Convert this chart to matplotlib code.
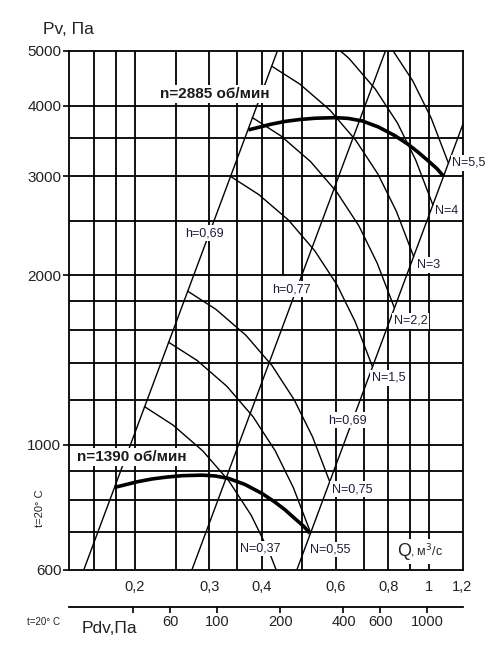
import matplotlib.pyplot as plt
import matplotlib.ticker as mticker

plt.rcParams['font.family'] = ['Liberation Sans', 'DejaVu Sans']

# grid of the chart
q_grid = [0.16, 0.18, 0.2, 0.25, 0.3, 0.35, 0.4, 0.5, 0.6, 0.7, 0.8, 0.9, 1.0]
p_grid = [700, 800, 900, 1000, 1200, 1400, 1600, 1800, 2000, 2500, 3000, 3500, 4000]
q_ticks = [0.2, 0.3, 0.4, 0.6, 0.8, 1.0, 1.2]
q_labels = ['0,2', '0,3', '0,4', '0,6', '0,8', '1', '1,2']
p_ticks = [600, 1000, 2000, 3000, 4000, 5000]
pdv_ticks = [40, 60, 100, 200, 400, 600, 1000]
pdv_labels = ['', '60', '100', '200', '400', '600', '1000']

# fan curves
q_2885 = [0.372, 0.397, 0.419, 0.455, 0.494, 0.537, 0.599, 0.643,
          0.694, 0.758, 0.832, 0.893, 0.944, 0.997, 1.047, 1.082]
p_2885 = [3622, 3666, 3704, 3750, 3780, 3799, 3808, 3796,
          3757, 3666, 3534, 3413, 3303, 3190, 3087, 3001]
q_1390 = [0.179, 0.191, 0.202, 0.219, 0.238, 0.259, 0.289, 0.310,
          0.334, 0.365, 0.401, 0.430, 0.455, 0.480, 0.504, 0.521]
p_1390 = [841, 851, 860, 870, 877, 882, 884, 881,
          872, 851, 820, 792, 767, 740, 717, 697]

# efficiency lines
h1_q = [0.151, 0.436]
h1_p = [600, 5000]
h2_q = [0.273, 0.788]
h2_p = [600, 5000]
h3_q = [0.485, 1.205]
h3_p = [600, 3710]

# power lines
n_curves = {
    '0,37': ([0.2108, 0.2460, 0.2898, 0.3344, 0.3775, 0.4173, 0.4584],
             [1169, 1085, 976, 863, 751, 645, 538]),
    '0,55': ([0.2404, 0.2807, 0.3306, 0.3814, 0.4307, 0.4759, 0.5230],
             [1521, 1413, 1271, 1123, 977, 840, 699]),
    '0,75': ([0.2669, 0.3115, 0.3668, 0.4234, 0.4780, 0.5285, 0.5803],
             [1874, 1740, 1566, 1383, 1203, 1034, 862]),
    '1,5': ([0.3375, 0.3938, 0.4638, 0.5352, 0.6042, 0.6680, 0.7336],
            [2995, 2781, 2504, 2210, 1924, 1653, 1378]),
    '2,2': ([0.3804, 0.4441, 0.5230, 0.6036, 0.6815, 0.7531, 0.8275],
            [3808, 3536, 3182, 2810, 2447, 2102, 1751]),
    '3': ([0.4228, 0.4934, 0.5811, 0.6705, 0.7570, 0.8371, 0.9192],
          [4699, 4366, 3929, 3468, 3020, 2595, 2161]),
    '4': ([0.4697, 0.5484, 0.6455, 0.7449, 0.8411, 0.9298, 1.0212],
          [5801, 5390, 4851, 4282, 3728, 3204, 2669]),
    '5,5': ([0.5115, 0.5970, 0.7032, 0.8110, 0.9158, 1.0125, 1.1121],
            [6879, 6390, 5751, 5078, 4421, 3799, 3165]),
}
n_label_pos = {
    '0,37': (0.356, 656), '0,55': (0.522, 653), '0,75': (0.588, 835),
    '1,5': (0.731, 1315), '2,2': (0.824, 1660), '3': (0.936, 2086),
    '4': (1.036, 2600), '5,5': (1.137, 3165),
}

fig = plt.figure(figsize=(5, 6.52), dpi=100)
ax = fig.add_axes([0.138, 0.1258, 0.788, 0.796])
ax.set_xscale('log')
ax.set_yscale('log')
ax.set_xlim(0.1393, 1.205)
ax.set_ylim(600, 5000)

glw = 1.3
for q in q_grid:
    ax.axvline(q, color='black', lw=glw, zorder=1)
ax.plot([0.45, 0.45], [2000, 5000], color='black', lw=glw, zorder=1)
for p in p_grid:
    ax.axhline(p, color='black', lw=glw, zorder=1)
for s in ax.spines.values():
    s.set_linewidth(glw)

ax.xaxis.set_major_locator(mticker.FixedLocator(q_ticks))
ax.xaxis.set_major_formatter(mticker.FixedFormatter(q_labels))
ax.xaxis.set_minor_locator(mticker.NullLocator())
ax.yaxis.set_major_locator(mticker.FixedLocator(p_ticks))
ax.yaxis.set_major_formatter(mticker.FixedFormatter([str(p) for p in p_ticks]))
ax.yaxis.set_minor_locator(mticker.NullLocator())
ax.tick_params(axis='x', length=0, pad=7, labelsize=10.5, colors='#222222')
ax.tick_params(axis='y', length=4.5, width=1.2, pad=1, labelsize=11, colors='#222222')
ax.tick_params(axis='y', color='black')

for k, (qs, ps) in n_curves.items():
    ax.plot(qs, ps, color='black', lw=1.0, zorder=2)
ax.plot(h1_q, h1_p, color='black', lw=1.0, zorder=2)
ax.plot(h2_q, h2_p, color='black', lw=1.0, zorder=2)
ax.plot(h3_q, h3_p, color='black', lw=1.0, zorder=2)
ax.plot(q_2885, p_2885, color='black', lw=2.6, zorder=3, solid_capstyle='butt')
ax.plot(q_1390, p_1390, color='black', lw=2.6, zorder=3, solid_capstyle='butt')

box = dict(facecolor='white', edgecolor='none', pad=1.2)
lab = dict(fontsize=9, color='#1c1c3a', zorder=5, bbox=box)
ax.text(0.2917, 2377, 'h=0,69', ha='center', va='center', **lab)
ax.text(0.4703, 1890, 'h=0,77', ha='center', va='center', **lab)
ax.text(0.6384, 1107, 'h=0,69', ha='center', va='center', **lab)
for k, (q, p) in n_label_pos.items():
    ax.text(q, p, 'N=' + k, ha='left', va='center', clip_on=False, **lab)

ax.text(0.229, 4196, 'n=2885 об/мин', ha='left', va='center', fontsize=11,
        fontweight='bold', color='#1a1a1a', zorder=5, bbox=box)
ax.text(0.1455, 952, 'n=1390 об/мин', ha='left', va='center', fontsize=11,
        fontweight='bold', color='#1a1a1a', zorder=5, bbox=box)
ax.text(0.902, 635, ', м$^3$/с', ha='left', va='baseline', fontsize=9,
        color='#222222', zorder=5, bbox=dict(facecolor='white', edgecolor='none', pad=2.5))
ax.text(0.8396, 635, 'Q', ha='left', va='baseline', fontsize=13, color='#222222',
        zorder=6)

# dynamic pressure scale
ax2 = fig.add_axes([0.138, 0.069, 0.788, 0.0001])
ax2.set_xscale('log')
ax2.set_xlim(1020 * 0.1393 ** 2, 1020 * 1.205 ** 2)
for sp in ['left', 'right', 'top']:
    ax2.spines[sp].set_visible(False)
ax2.spines['bottom'].set_linewidth(glw)
ax2.set_yticks([])
ax2.xaxis.set_major_locator(mticker.FixedLocator(pdv_ticks))
ax2.xaxis.set_major_formatter(mticker.FixedFormatter(pdv_labels))
ax2.xaxis.set_minor_locator(mticker.NullLocator())
ax2.tick_params(axis='x', length=4, width=1.2, pad=2, labelsize=10.5, labelcolor='#222222')

fig.text(0.086, 0.9555, 'Pv, Па', ha='left', va='center', fontsize=12.5, color='#222222')
fig.text(0.164, 0.0368, 'Pdv,Па', ha='left', va='center', fontsize=12.5, color='#222222')
fig.text(0.054, 0.046, 't=20° C', ha='left', va='center', fontsize=7, color='#222222')
fig.text(0.08, 0.221, 't=20° C', ha='center', va='center', fontsize=8, rotation=90,
         color='#222222')

fig.savefig('out.png', dpi=100, facecolor='white')
